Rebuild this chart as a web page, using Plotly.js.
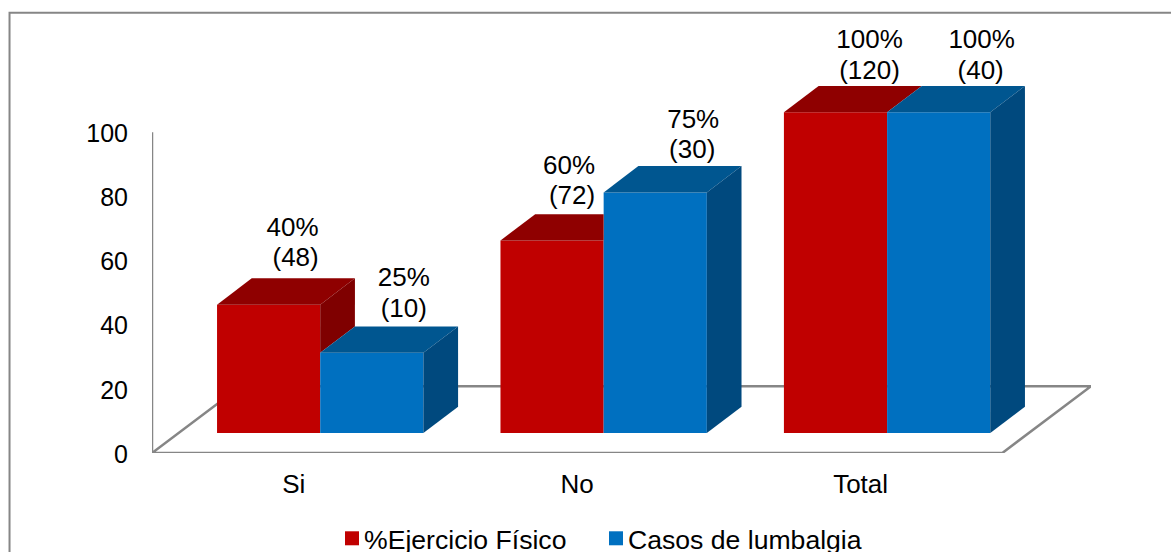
<!DOCTYPE html>
<html>
<head>
<meta charset="utf-8">
<script src="https://cdn.plot.ly/plotly-3.0.1.min.js"></script>
<style>html,body{margin:0;padding:0;background:#fff;overflow:hidden}#chart{width:1171px;height:552px}</style>
</head>
<body>
<div id="chart"></div>
<script>
// Percentages and case counts per answer
const categories = ['Si', 'No', 'Total'];
const ejercicioPct = [40, 60, 100];
const lumbalgiaPct = [25, 75, 100];
const ejercicioCasos = [48, 72, 120];
const lumbalgiaCasos = [10, 30, 40];
const yTicks = [0, 20, 40, 60, 80, 100];

// Plot frame in pixels and the scale that follows from it
const W = 1171, H = 552;
const plotL = 151.5, plotR = 1090.7, plotB = 453.4;
const pxPerCat = 283.5, pxPerUnit = 3.21;
const yMax = 135;
const plotT = plotB - yMax * pxPerUnit;
const px = v => v / pxPerCat;    // horizontal pixels to x units
const py = v => v / pxPerUnit;   // vertical pixels to y units

// Oblique projection used for the floor and the box depth
const floorDx = px(88.7), floorDy = py(66.9);
const frontDx = px(26.5), frontDy = py(20);
const depthDx = px(34.7), depthDy = py(26.4);
const barW = px(103.2);
const xMax = (plotR - plotL) / pxPerCat;

const RED = {front: '#C00000', top: '#8F0000', side: '#7F0000'};
const BLUE = {front: '#0070C0', top: '#005690', side: '#00497E'};
const FONT = 'Liberation Sans, Arial, sans-serif';
const FS = 26;
const GRAY = '#868686';

const centers = categories.map((_, i) => i + 0.5);
const barX = (i, s) => centers[i] + frontDx + (s === 0 ? -barW / 2 : barW / 2);

function polygon(points, color) {
  return {
    type: 'scatter', mode: 'lines', fill: 'toself', fillcolor: color,
    x: points.map(p => p[0]), y: points.map(p => p[1]),
    line: {width: 0, color: color}, showlegend: false, hoverinfo: 'skip'
  };
}

// Top and right faces of one box; the red box is cut where the taller blue box hides it
function boxFaces(i, s, value, neighbour, colors) {
  const left = barX(i, s) - barW / 2, right = left + barW;
  const h = frontDy + value;
  const faces = [];
  const hidden = neighbour !== null && neighbour > value;
  const top = [[left, h], [right, h]];
  top.push([hidden ? right : right + depthDx, h + depthDy]);
  top.push([left + depthDx, h + depthDy]);
  faces.push(polygon(top, colors.top));
  if (!hidden) {
    const low = neighbour === null ? frontDy : frontDy + neighbour;
    faces.push(polygon([[right, h], [right + depthDx, h + depthDy],
      [right + depthDx, low + depthDy], [right, low]], colors.side));
  }
  return faces;
}

// Label placement in pixels relative to the front-top centre of each box
const pctShiftX = [[24, 17, 34], [32, 38, 43]];
const casosShiftX = [[27, 20, 34], [32, 37, 42]];
const pctLift = [[75, 73, 71], [73, 71, 71]];
const casosLift = [[45, 43, 40], [42, 41, 40]];

const labelTrace = (s, pct, texts, shiftX, lift) => ({
  type: 'scatter', mode: 'text',
  x: categories.map((_, i) => barX(i, s) + px(shiftX[s][i])),
  y: pct.map((v, i) => frontDy + v + py(lift[s][i])),
  text: texts,
  textposition: 'middle center',
  textfont: {family: FONT, size: FS, color: '#000'},
  showlegend: false, hoverinfo: 'skip'
});

const frontTrace = (s, name, pct, color) => ({
  type: 'bar', name: name,
  x: categories.map((_, i) => barX(i, s)),
  y: pct, base: frontDy, width: barW,
  marker: {color: color, line: {width: 0}},
  showlegend: false
});

const legendTrace = (name, color) => ({
  type: 'scatter', mode: 'markers', name: name, x: [null], y: [null],
  marker: {symbol: 'square', size: 14, color: color}
});

const faces = [];
categories.forEach((_, i) => {
  faces.push(...boxFaces(i, 0, ejercicioPct[i], lumbalgiaPct[i], RED));
  faces.push(...boxFaces(i, 1, lumbalgiaPct[i], null, BLUE));
});

const data = [
  frontTrace(0, '%Ejercicio Físico', ejercicioPct, RED.front),
  frontTrace(1, 'Casos de lumbalgia', lumbalgiaPct, BLUE.front),
  labelTrace(0, ejercicioPct, ejercicioPct.map(v => v + '%'), pctShiftX, pctLift),
  labelTrace(0, ejercicioPct, ejercicioCasos.map(v => '(' + v + ')'), casosShiftX, casosLift),
  labelTrace(1, lumbalgiaPct, lumbalgiaPct.map(v => v + '%'), pctShiftX, pctLift),
  labelTrace(1, lumbalgiaPct, lumbalgiaCasos.map(v => '(' + v + ')'), casosShiftX, casosLift),
  ...faces,
  legendTrace('%Ejercicio Físico', RED.front),
  legendTrace('Casos de lumbalgia', BLUE.front)
];

const plotW = plotR - plotL, plotH = plotB - plotT;
const paperX = v => (v - plotL) / plotW;
const paperY = v => (plotB - v) / plotH;

const layout = {
  width: W, height: H,
  paper_bgcolor: '#fff', plot_bgcolor: 'rgba(0,0,0,0)',
  margin: {l: plotL, r: W - plotR, t: plotT, b: H - plotB, pad: 0},
  barmode: 'overlay',
  font: {family: FONT, size: FS, color: '#000'},
  xaxis: {
    range: [0, xMax], showgrid: false, zeroline: false, showline: false,
    tickmode: 'array', tickvals: centers, ticktext: categories,
    ticks: '', ticklabelstandoff: 13, tickfont: {family: FONT, size: FS, color: '#000'},
    fixedrange: true
  },
  yaxis: {
    range: [0, yMax], showgrid: false, zeroline: false, showline: false,
    tickmode: 'array', tickvals: yTicks, ticktext: yTicks.map(String),
    ticks: '', ticklabelstandoff: 23, ticklabelshift: 1,
    tickfont: {family: FONT, size: 25, color: '#000'},
    fixedrange: true
  },
  shapes: [
    // Floor outline and value axis, behind the boxes
    {type: 'path', layer: 'below', xref: 'x', yref: 'y',
     path: `M 0 0 L 3 0 L ${3 + floorDx} ${floorDy} L ${floorDx} ${floorDy} Z`,
     line: {color: GRAY, width: 2.5}, fillcolor: 'rgba(0,0,0,0)'},
    {type: 'line', layer: 'below', xref: 'x', yref: 'y', x0: 0, x1: 0, y0: 0, y1: 100,
     line: {color: GRAY, width: 2.5}},
    // Chart frame, open towards the right and bottom edges
    {type: 'rect', layer: 'below', xref: 'paper', yref: 'paper',
     x0: paperX(9), x1: paperX(1200), y0: paperY(12.7), y1: paperY(600),
     line: {color: GRAY, width: 2}, fillcolor: 'rgba(0,0,0,0)'}
  ],
  showlegend: true,
  legend: {
    orientation: 'h', xref: 'container', yref: 'container',
    x: 324 / W, xanchor: 'left', y: 13.5 / H, yanchor: 'middle',
    entrywidthmode: 'pixels', entrywidth: 219,
    font: {family: FONT, size: 26.6, color: '#000'},
    bgcolor: 'rgba(0,0,0,0)'
  }
};

// Legend swatches sit closer to their text than the default item width allows,
// and the fixed entry width must not cut off the last label
function tightenLegend(gd) {
  gd.querySelectorAll('.legend .legendpoints').forEach(g => {
    g.setAttribute('transform', 'translate(8,0)');
  });
  gd.querySelectorAll('.legend .scrollbox').forEach(g => {
    g.removeAttribute('clip-path');
    g.style.clipPath = 'none';
  });
}

Plotly.newPlot('chart', data, layout, {displayModeBar: false}).then(gd => {
  tightenLegend(gd);
  gd.on('plotly_afterplot', () => tightenLegend(gd));
});
</script>
</body>
</html>
